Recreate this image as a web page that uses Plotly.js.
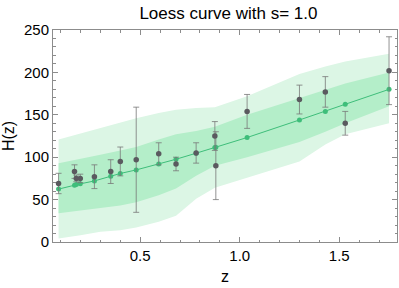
<!DOCTYPE html>
<html>
<head>
<meta charset="utf-8">
<script src="https://cdn.plot.ly/plotly-3.0.1.min.js"></script>
<style>html,body{margin:0;padding:0;background:#fff;}#chart{width:399px;height:288px;}</style>
</head>
<body>
<div id="chart"></div>
<script>
// Observed data
const zObs = [0.09, 0.17, 0.179, 0.199, 0.27, 0.352, 0.4, 0.48, 0.593, 0.68, 0.781, 0.875, 0.88, 1.037, 1.3, 1.43, 1.53, 1.75];
const hObs = [69, 83, 75, 75, 77, 83, 95, 97, 104, 92, 105, 125, 90, 154, 168, 177, 140, 202];
const hErr = [12, 8, 4, 5, 14, 14, 17, 62, 13, 8, 12, 17, 40, 20, 17, 18, 14, 40];
// Loess fit at the same redshifts
const hFit = [62.4, 67, 67.7, 68.6, 72, 77.6, 80.8, 85, 92, 97.6, 104.7, 111.4, 111.7, 123.2, 143.9, 154, 162.4, 180];
// Confidence bands
const bandZ = [0.09, 0.2, 0.3, 0.4, 0.48, 0.593, 0.68, 0.781, 0.875, 1.037, 1.3, 1.43, 1.53, 1.75];
const outerUp = [121, 128, 135, 141, 146, 152, 156, 158, 159, 172, 198, 207, 213, 222];
const innerUp = [93, 98, 103, 108, 112, 121, 127, 131, 136, 150, 170, 180, 187, 200];
const innerLo = [34, 37, 40, 43, 47, 55, 63, 78, 90, 100, 118, 130, 140, 160];
const outerLo = [4, 8, 12, 14, 17, 24, 31, 51, 64, 76, 95, 115, 127, 140];
// Ticks
const xTicks = [0.5, 1.0, 1.5];
const xTickText = ["0.5", "1.0", "1.5"];
const yTicks = [0, 50, 100, 150, 200, 250];

function poly(up, lo) {
  return {
    x: bandZ.concat(bandZ.slice().reverse()),
    y: up.concat(lo.slice().reverse())
  };
}
const outer = poly(outerUp, outerLo);
const inner = poly(innerUp, innerLo);

const frameColor = 'rgb(140,140,140)';
const traces = [
  {x: outer.x, y: outer.y, type: 'scatter', mode: 'lines', fill: 'toself',
   fillcolor: 'rgb(220,246,229)', line: {width: 0}, hoverinfo: 'skip', showlegend: false},
  {x: inner.x, y: inner.y, type: 'scatter', mode: 'lines', fill: 'toself',
   fillcolor: 'rgb(180,238,201)', line: {width: 0}, hoverinfo: 'skip', showlegend: false},
  {x: zObs, y: hFit, type: 'scatter', mode: 'lines+markers',
   line: {color: 'rgb(62,190,122)', width: 1},
   marker: {color: 'rgb(62,190,122)', size: 5}, showlegend: false},
  {x: zObs, y: hObs, type: 'scatter', mode: 'markers',
   marker: {color: 'rgb(90,90,95)', size: 5.5},
   error_y: {type: 'data', array: hErr, visible: true, color: 'rgba(120,120,120,0.8)', thickness: 1, width: 3},
   showlegend: false}
];

const layout = {
  width: 399, height: 288,
  margin: {l: 53, r: 2, t: 29.5, b: 46},
  paper_bgcolor: '#fff', plot_bgcolor: '#fff',
  font: {family: 'Liberation Sans, Arial, sans-serif', size: 15, color: '#000'},
  title: {text: 'Loess curve with s= 1.0', x: 0.51, xref: 'paper', xanchor: 'center', y: 0.955, yanchor: 'middle',
          font: {size: 17, color: '#000'}},
  xaxis: {
    range: [0.062, 1.79], tickvals: xTicks, ticktext: xTickText,
    showgrid: false, zeroline: false, showline: true, linecolor: frameColor, linewidth: 1,
    mirror: 'allticks', ticks: 'inside', ticklen: 5, tickcolor: frameColor,
    minor: {dtick: 0.1, tick0: 0, ticks: 'inside', ticklen: 2.5, tickcolor: frameColor, showgrid: false},
    tickfont: {size: 15}, title: {text: 'z', font: {size: 16}, standoff: 7}
  },
  yaxis: {
    range: [0, 250], tickvals: yTicks,
    showgrid: false, zeroline: false, showline: true, linecolor: frameColor, linewidth: 1,
    mirror: 'allticks', ticks: 'inside', ticklen: 5, tickcolor: frameColor,
    minor: {dtick: 10, tick0: 0, ticks: 'inside', ticklen: 2.5, tickcolor: frameColor, showgrid: false},
    tickfont: {size: 15}, title: {text: 'H(z)', font: {size: 16}, standoff: 5}
  }
};

Plotly.newPlot('chart', traces, layout, {staticPlot: true, displayModeBar: false});
</script>
</body>
</html>
